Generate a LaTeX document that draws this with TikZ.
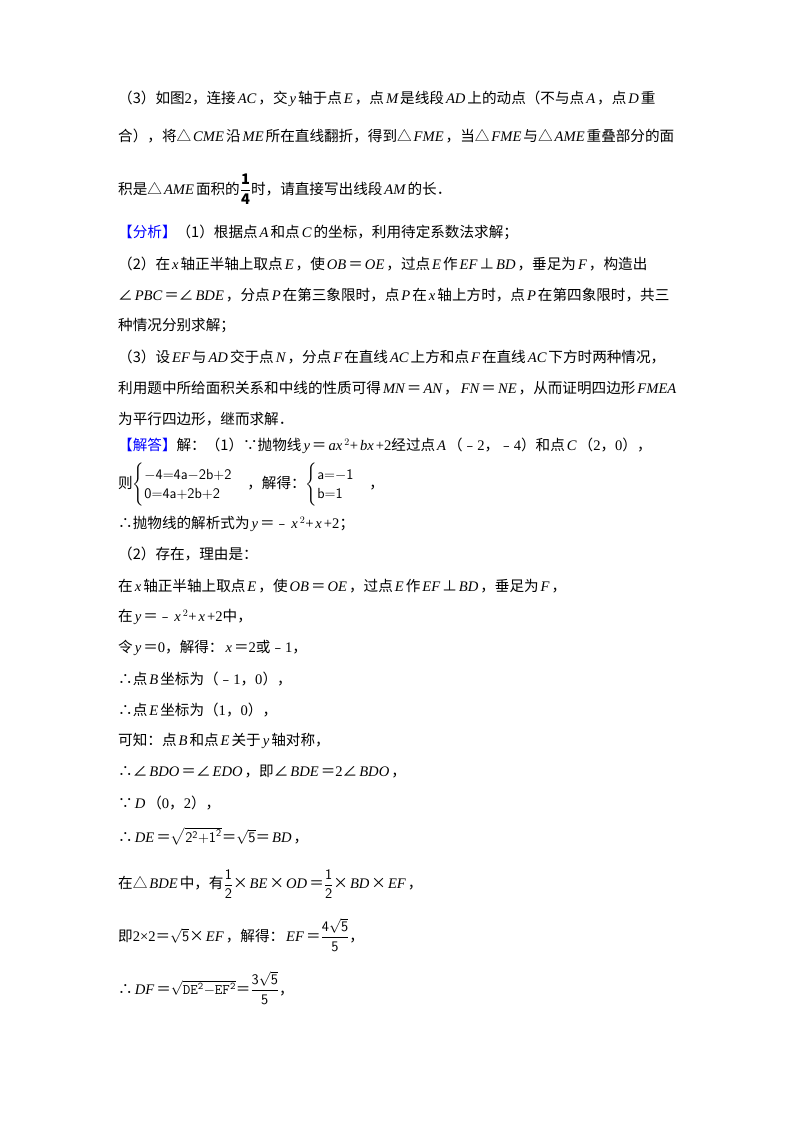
\documentclass[tikz,border=0pt]{standalone}
\usepackage{amsmath}
\usepackage{fontspec}
\setmainfont{Noto Sans CJK SC}
\newfontfamily\lat{Liberation Serif}
\newcommand\I[1]{\hspace{2pt}{\lat\itshape #1}\hspace{2pt}}
\newcommand\R[1]{{\lat #1}}
\begin{document}
\begin{tikzpicture}[x=1pt,y=-1pt,
  ln/.style={anchor=west,inner sep=0pt,font=\fontsize{14.6}{16}\selectfont}]
\useasboundingbox[fill=white] (0,0) rectangle (800,1132);
\node[ln] (l1) at (118,99) {（3）如图\R{2}，连接\I{AC}，交\I{y}轴于点\I{E}，点\I{M}是线段\I{AD}上的动点（不与点\I{A}，点\I{D}重};
\node[ln] (l2) at (118,136) {合），将△\I{CME}沿\I{ME}所在直线翻折，得到△\I{FME}，当△\I{FME}与△\I{AME}重叠部分的面};
\node[ln] (l3) at (118,189) {积是△\I{AME}面积的$\dfrac{\mathbf{1}}{\mathbf{4}}$时，请直接写出线段\I{AM}的长．};
\node[ln] (l4) at (118,232) {\textcolor{blue}{【分析】}（1）根据点\I{A}和点\I{C}的坐标，利用待定系数法求解；};
\node[ln] (l5) at (118,264) {（2）在\I{x}轴正半轴上取点\I{E}，使\I{OB}＝\I{OE}，过点\I{E}作\I{EF}⊥\I{BD}，垂足为\I{F}，构造出};
\node[ln] (l6) at (118,295) {∠\I{PBC}＝∠\I{BDE}，分点\I{P}在第三象限时，点\I{P}在\I{x}轴上方时，点\I{P}在第四象限时，共三};
\node[ln] (l7) at (118,326) {种情况分别求解；};
\node[ln] (l8) at (118,357) {（3）设\I{EF}与\I{AD}交于点\I{N}，分点\I{F}在直线\I{AC}上方和点\I{F}在直线\I{AC}下方时两种情况，};
\node[ln] (l9) at (118,388) {利用题中所给面积关系和中线的性质可得\I{MN}＝\I{AN}，\I{FN}＝\I{NE}，从而证明四边形\I{FMEA}};
\node[ln] (l10) at (118,419) {为平行四边形，继而求解．};
\node[ln] (l11) at (118,446) {\textcolor{blue}{【解答】}解：（1）∵抛物线\I{y}＝\I{ax}$^{2}$\R{+}\I{bx}\R{+2}经过点\I{A}（﹣\R{2}，﹣\R{4}）和点\I{C}（\R{2}，\R{0}），};
\node[ln] (l12) at (118,485) {则$\begin{cases}\mathsf{-4{=}4a{-}2b{+}2}\\ \mathsf{0{=}4a{+}2b{+}2}\end{cases}$，解得：$\begin{cases}\mathsf{a{=}{-}1}\\ \mathsf{b{=}1}\end{cases}$，};
\node[ln] (l13) at (118,524) {∴抛物线的解析式为\I{y}＝﹣\I{x}$^{2}$\R{+}\I{x}\R{+2}；};
\node[ln] (l14) at (118,554) {（2）存在，理由是：};
\node[ln] (l15) at (118,586) {在\I{x}轴正半轴上取点\I{E}，使\I{OB}＝\I{OE}，过点\I{E}作\I{EF}⊥\I{BD}，垂足为\I{F}，};
\node[ln] (l16) at (118,617) {在\I{y}＝﹣\I{x}$^{2}$\R{+}\I{x}\R{+2}中，};
\node[ln] (l17) at (118,648) {令\I{y}＝\R{0}，解得：\I{x}＝\R{2}或﹣\R{1}，};
\node[ln] (l18) at (118,679) {∴点\I{B}坐标为（﹣\R{1}，\R{0}），};
\node[ln] (l19) at (118,710) {∴点\I{E}坐标为（\R{1}，\R{0}），};
\node[ln] (l20) at (118,741) {可知：点\I{B}和点\I{E}关于\I{y}轴对称，};
\node[ln] (l21) at (118,772) {∴∠\I{BDO}＝∠\I{EDO}，即∠\I{BDE}＝\R{2}∠\I{BDO}，};
\node[ln] (l22) at (118,803) {∵\I{D}（\R{0}，\R{2}），};
\node[ln] (l23) at (118,836) {∴\I{DE}＝$\sqrt{\mathsf{2}^{\mathsf{2}}\mathsf{+1}^{\mathsf{2}}}$＝$\sqrt{\mathsf{5}}$＝\I{BD}，};
\node[ln] (l24) at (118,884) {在△\I{BDE}中，有$\dfrac{\mathsf{1}}{\mathsf{2}}$×\I{BE}×\I{OD}＝$\dfrac{\mathsf{1}}{\mathsf{2}}$×\I{BD}×\I{EF}，};
\node[ln] (l25) at (118,935) {即\R{2×2}＝$\sqrt{\mathsf{5}}$×\I{EF}，解得：\I{EF}＝$\dfrac{\mathsf{4}\sqrt{\mathsf{5}}}{\mathsf{5}}$，};
\node[ln] (l26) at (118,988) {∴\I{DF}＝$\sqrt{\mathtt{DE}^{\mathtt{2}}\mathtt{-EF}^{\mathtt{2}}}$＝$\dfrac{\mathsf{3}\sqrt{\mathsf{5}}}{\mathsf{5}}$，};
\end{tikzpicture}
\end{document}
